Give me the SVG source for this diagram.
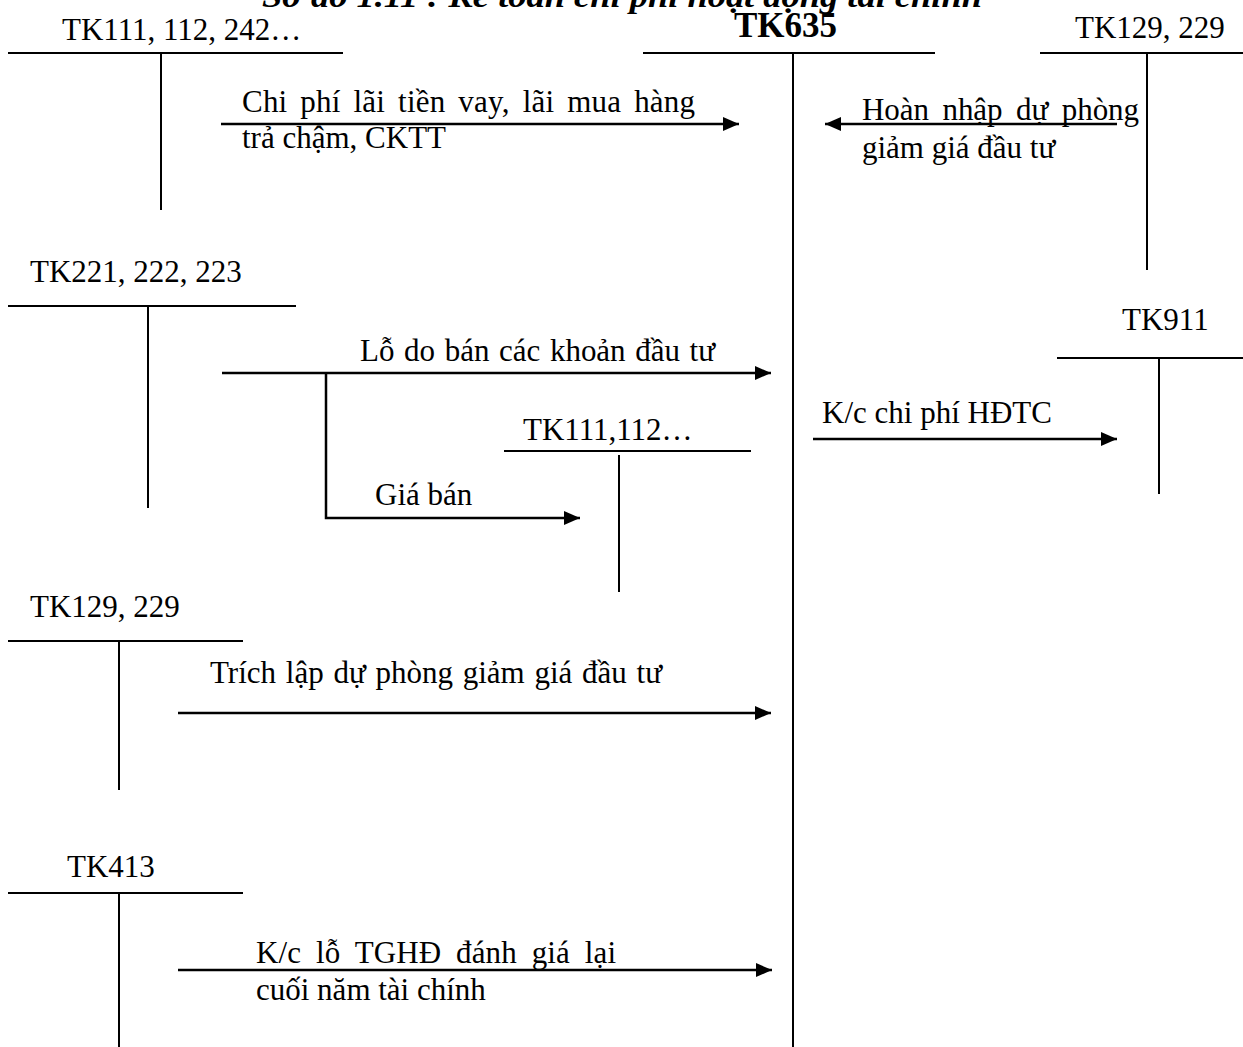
<svg xmlns="http://www.w3.org/2000/svg" width="1243" height="1047" viewBox="0 0 1243 1047">
<style>
text{font-family:"Liberation Serif","Times New Roman",serif;font-size:31px;fill:#000}
.b{font-weight:bold;font-size:35px}
.t{font-weight:bold;font-style:italic;font-size:32px}
.ln{stroke:#000;stroke-width:2;fill:none}
.ar{stroke:#000;stroke-width:2.5;fill:none;marker-end:url(#ah)}
</style>
<defs>
<marker id="ah" viewBox="0 0 16 14" refX="16" refY="7" markerWidth="16" markerHeight="14" markerUnits="userSpaceOnUse" orient="auto">
<path d="M0,0 L16,7 L0,14 Z" fill="#000"/>
</marker>
</defs>
<text class="t" x="262" y="7" textLength="720" lengthAdjust="spacingAndGlyphs">Sơ đồ 1.11 : Kế toán chi phí hoạt động tài chính</text>
<g id="tk111-top">
<text x="62" y="40">TK111, 112, 242…</text>
<line class="ln" x1="8" y1="53" x2="343" y2="53"/>
<line class="ln" x1="161" y1="53" x2="161" y2="210"/>
</g>
<g id="tk635">
<text class="b" x="734" y="37">TK635</text>
<line class="ln" x1="643" y1="53" x2="935" y2="53"/>
<line class="ln" x1="793" y1="53" x2="793" y2="1047"/>
</g>
<g id="tk129-top">
<text x="1075" y="38">TK129, 229</text>
<line class="ln" x1="1040" y1="53" x2="1243" y2="53"/>
<line class="ln" x1="1147" y1="53" x2="1147" y2="270"/>
</g>
<g id="tk221">
<text x="30" y="282">TK221, 222, 223</text>
<line class="ln" x1="8" y1="306" x2="296" y2="306"/>
<line class="ln" x1="148" y1="306" x2="148" y2="508"/>
</g>
<g id="tk111-mid">
<text x="523" y="440">TK111,112…</text>
<line class="ln" x1="504" y1="451" x2="751" y2="451"/>
<line class="ln" x1="619" y1="455" x2="619" y2="592"/>
</g>
<g id="tk911">
<text x="1122" y="330">TK911</text>
<line class="ln" x1="1057" y1="358" x2="1243" y2="358"/>
<line class="ln" x1="1159" y1="358" x2="1159" y2="494"/>
</g>
<g id="tk129-left">
<text x="30" y="617">TK129, 229</text>
<line class="ln" x1="8" y1="641" x2="243" y2="641"/>
<line class="ln" x1="119" y1="641" x2="119" y2="790"/>
</g>
<g id="tk413">
<text x="67" y="877">TK413</text>
<line class="ln" x1="8" y1="893" x2="243" y2="893"/>
<line class="ln" x1="119" y1="893" x2="119" y2="1047"/>
</g>
<g id="connectors">
<line class="ar" x1="221" y1="124" x2="739" y2="124"/>
<text x="242" y="112" word-spacing="5" textLength="453" lengthAdjust="spacing">Chi phí lãi tiền vay, lãi mua hàng</text>
<text x="242" y="148">trả chậm, CKTT</text>
<line class="ar" x1="1117" y1="124" x2="825" y2="124"/>
<text x="862" y="120" word-spacing="6" textLength="277" lengthAdjust="spacing">Hoàn nhập dự phòng</text>
<text x="862" y="158">giảm giá đầu tư</text>
<line class="ar" x1="222" y1="373" x2="771" y2="373"/>
<text x="360" y="361" word-spacing="2" textLength="355" lengthAdjust="spacing">Lỗ do bán các khoản đầu tư</text>
<polyline class="ar" points="326,373 326,518 580,518"/>
<text x="375" y="505">Giá bán</text>
<line class="ar" x1="813" y1="439" x2="1117" y2="439"/>
<text x="822" y="423">K/c chi phí HĐTC</text>
<line class="ar" x1="178" y1="713" x2="771" y2="713"/>
<text x="210" y="683" word-spacing="2" textLength="452" lengthAdjust="spacing">Trích lập dự phòng giảm giá đầu tư</text>
<line class="ar" x1="178" y1="970" x2="772" y2="970"/>
<text x="256" y="963" word-spacing="7" textLength="360" lengthAdjust="spacing">K/c lỗ TGHĐ đánh giá lại</text>
<text x="256" y="1000">cuối năm tài chính</text>
</g>
</svg>
